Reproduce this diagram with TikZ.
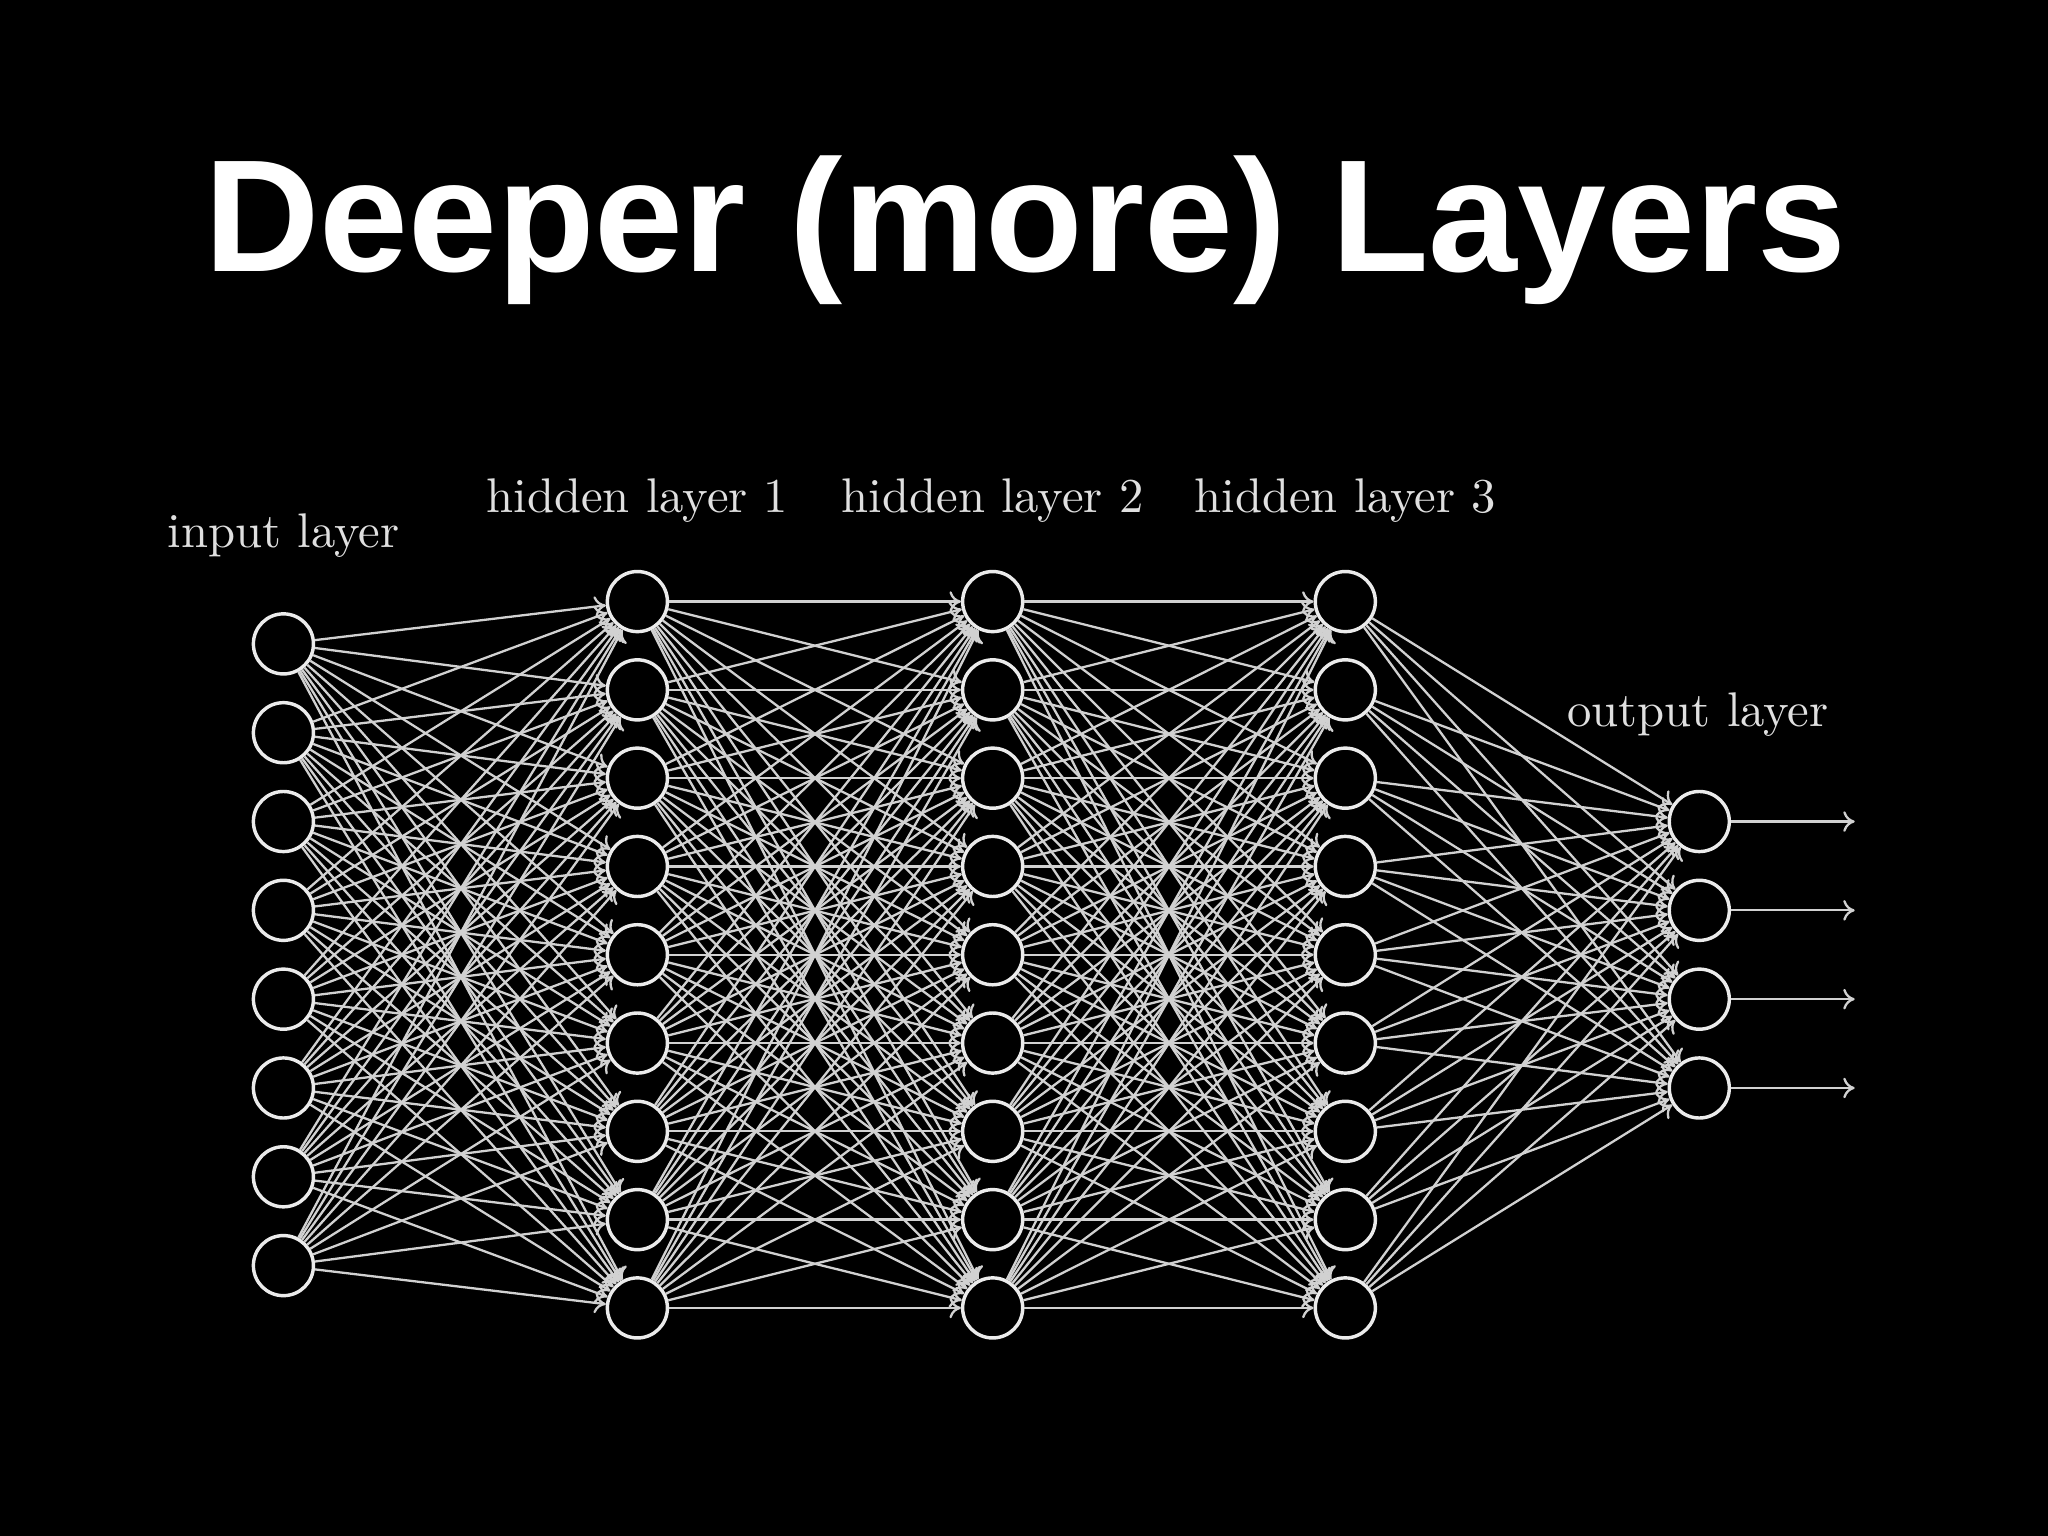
\documentclass[tikz,border=0pt]{standalone}
\usepackage{fontspec}
\usepackage{tikz}
\usetikzlibrary{arrows.meta, calc, positioning}
\newfontfamily\titlefont{Liberation Sans}

\begin{document}
\begin{tikzpicture}[line width=0.6pt,
    neuron/.style={circle, draw=white!92!black, fill=black, line width=0.75pt,
      minimum size=0.46cm, inner sep=0pt},
    link/.style={draw=white!82!black, line width=0.5pt,
      -{To[length=2.5pt,width=4.5pt]}},
    layername/.style={text=white!88!black, font=\fontsize{10.6}{12}\selectfont}]
        \fill[black] (0,0) rectangle (15.68,11.76);
        \node[text=white, anchor=base, font=\titlefont\bfseries\fontsize{34.8}{40}\selectfont]
            (title) at (7.85,9.68) {Deeper (more) Layers};

        \foreach \k in {1,...,8}
            \node[neuron] (I-\k) at (2.17,{4.45+(4.5-\k)*0.68}) {};
        \foreach \l/\x in {1/4.88, 2/7.60, 3/10.30}
            \foreach \k in {1,...,9}
                \node[neuron] (H\l-\k) at (\x,{4.45+(5-\k)*0.676}) {};
        \foreach \k in {1,...,4}
            \node[neuron] (O-\k) at (13.01,{4.45+(2.5-\k)*0.68}) {};

        \foreach \k in {1,...,8}
            \foreach \j in {1,...,9}
                \draw[link] (I-\k) -- (H1-\j);
        \foreach \l/\m in {1/2, 2/3}
            \foreach \k in {1,...,9}
                \foreach \j in {1,...,9}
                    \draw[link] (H\l-\k) -- (H\m-\j);
        \foreach \k in {1,...,9}
            \foreach \j in {1,...,4}
                \draw[link] (H3-\k) -- (O-\j);
        \foreach \k in {1,...,4} {
            \coordinate (out-\k) at ($(O-\k)+(1.19,0)$);
            \draw[link] (O-\k) -- (out-\k);
        }

        \node[layername] (inlabel) at (2.17,7.66) {input layer};
        \node[layername] (h1label) at (4.88,7.93) {hidden layer 1};
        \node[layername] (h2label) at (7.60,7.93) {hidden layer 2};
        \node[layername] (h3label) at (10.30,7.93) {hidden layer 3};
        \node[layername] (outlabel) at (13.00,6.29) {output layer};
    \end{tikzpicture}
\end{document}
